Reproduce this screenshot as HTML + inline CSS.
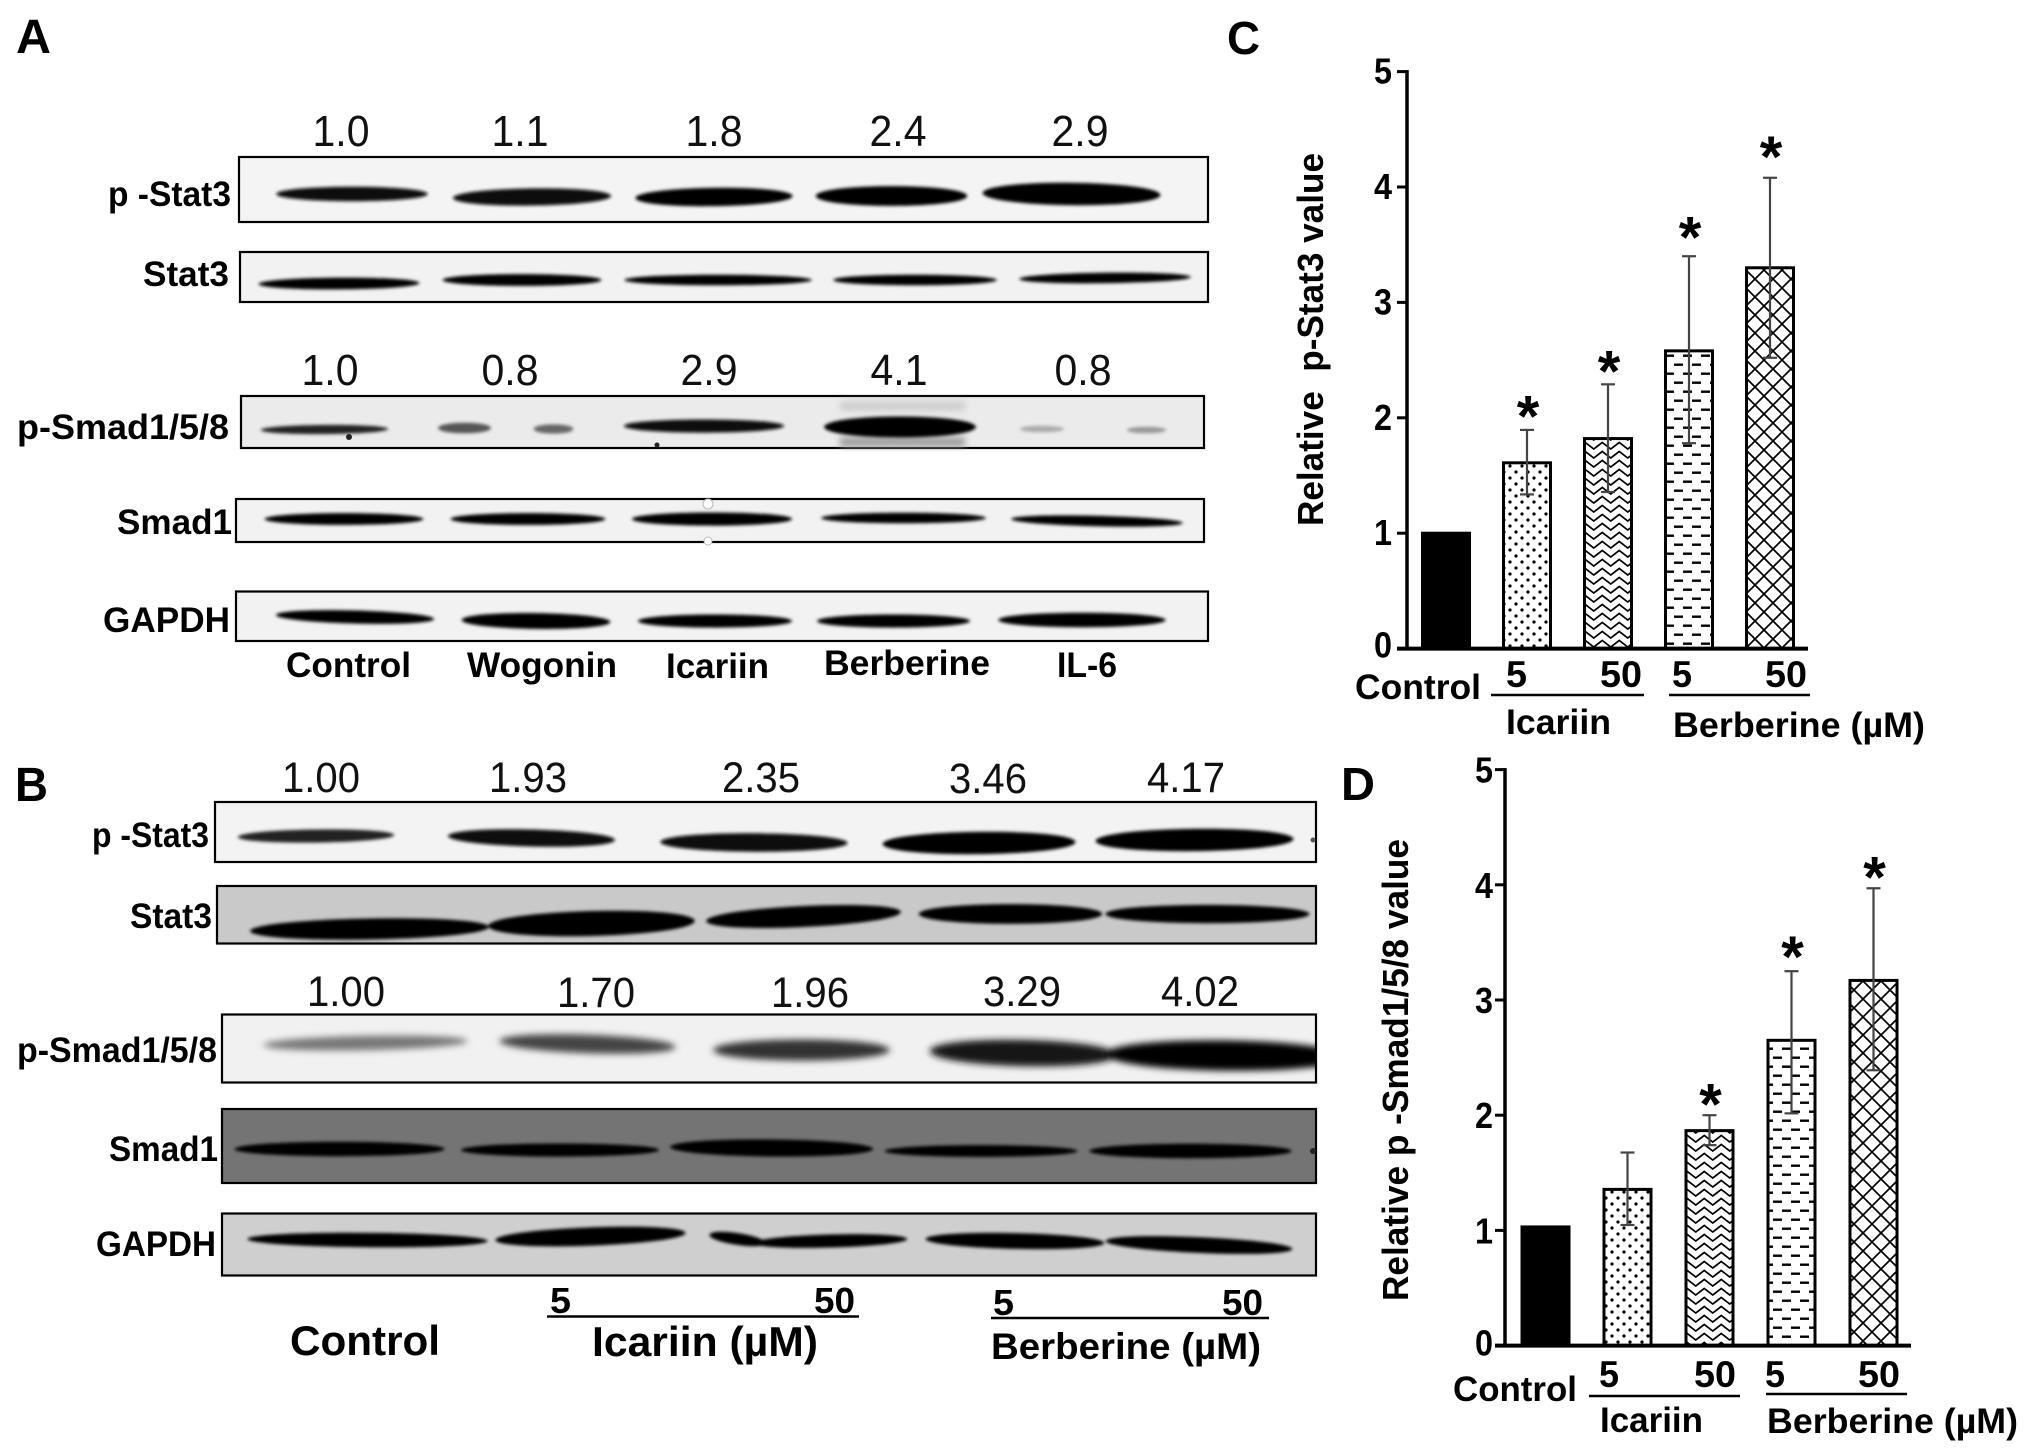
<!DOCTYPE html>
<html lang="en">
<head>
<meta charset="utf-8">
<title>p-Stat3 and p-Smad1/5/8 blots and quantification</title>
<style>
html,body{margin:0;padding:0;background:#fff;}
svg{display:block;}
text{font-family:"Liberation Sans",sans-serif;fill:#000;}
.b{font-weight:bold;}
.n{font-weight:normal;fill:#111;}
.blot{stroke:#000;stroke-width:2.2;}
</style>
</head>
<body>
<svg id="figure" xmlns="http://www.w3.org/2000/svg" width="2031" height="1454" viewBox="0 0 2031 1454">
<defs>
<filter id="soft" x="-5%" y="-5%" width="110%" height="110%"><feGaussianBlur stdDeviation="1.5"/></filter>
<filter id="softer" x="-5%" y="-50%" width="110%" height="200%"><feGaussianBlur stdDeviation="3.5"/></filter>
<clipPath id="clip-b-smad"><rect x="222" y="1014.5" width="1094" height="68"/></clipPath>
<pattern id="pat-dots" patternUnits="userSpaceOnUse" width="12" height="12" x="1" y="1">
<rect width="12" height="12" fill="#fff"/><circle cx="3" cy="3" r="1.6" fill="#000"/><circle cx="9" cy="9" r="1.6" fill="#000"/>
</pattern>
<pattern id="pat-zig" patternUnits="userSpaceOnUse" width="17" height="9">
<rect width="17" height="9" fill="#fff"/><path d="M-4.25 8 L4.25 1.5 L12.75 8 L21.25 1.5" fill="none" stroke="#000" stroke-width="1.7"/>
</pattern>
<pattern id="pat-dash" patternUnits="userSpaceOnUse" width="18" height="18">
<rect width="18" height="18" fill="#fff"/><rect x="0" y="3.5" width="9" height="2.4" fill="#000"/><rect x="9" y="12.5" width="9" height="2.4" fill="#000"/>
</pattern>
<pattern id="pat-cross" patternUnits="userSpaceOnUse" width="18" height="18">
<rect width="18" height="18" fill="#fff"/><path d="M0 0L18 18M18 0L0 18" stroke="#000" stroke-width="1.7"/>
</pattern>
</defs>

<!-- PANEL A -->
<g id="panel-a">
<text class="b" x="16" y="53" font-size="48" textLength="35" lengthAdjust="spacingAndGlyphs">A</text>

<g text-anchor="middle" font-size="44">
<text class="n" x="341" y="146" textLength="57" lengthAdjust="spacingAndGlyphs">1.0</text><text class="n" x="520" y="146" textLength="57" lengthAdjust="spacingAndGlyphs">1.1</text><text class="n" x="714" y="146" textLength="57" lengthAdjust="spacingAndGlyphs">1.8</text><text class="n" x="898" y="146" textLength="57" lengthAdjust="spacingAndGlyphs">2.4</text><text class="n" x="1080" y="146" textLength="57" lengthAdjust="spacingAndGlyphs">2.9</text>
</g>
<g text-anchor="middle" font-size="44">
<text class="n" x="330" y="385" textLength="57" lengthAdjust="spacingAndGlyphs">1.0</text><text class="n" x="510" y="385" textLength="57" lengthAdjust="spacingAndGlyphs">0.8</text><text class="n" x="709" y="385" textLength="57" lengthAdjust="spacingAndGlyphs">2.9</text><text class="n" x="899" y="385" textLength="57" lengthAdjust="spacingAndGlyphs">4.1</text><text class="n" x="1083" y="385" textLength="57" lengthAdjust="spacingAndGlyphs">0.8</text>
</g>

<rect class="blot" x="239" y="157" width="969" height="65" fill="#f4f4f4"/>
<rect class="blot" x="240" y="252" width="968" height="50" fill="#f2f2f2"/>
<rect class="blot" x="241" y="396" width="963" height="52" fill="#ebebeb"/>
<rect class="blot" x="236" y="499" width="968" height="43" fill="#f2f2f2"/>
<rect class="blot" x="236" y="591.5" width="972" height="49.5" fill="#f2f2f2"/>

<g filter="url(#softer)">
<line x1="840" y1="442" x2="965" y2="442" stroke="#999" stroke-width="9"/>
<line x1="840" y1="406" x2="965" y2="406" stroke="#ccc" stroke-width="9"/>
</g>
<g class="bands" filter="url(#soft)">
<line x1="283" y1="194" x2="421" y2="194" stroke="#111" stroke-width="11"/>
<line x1="461" y1="198" x2="603" y2="196" stroke="#0a0a0a" stroke-width="13"/>
<line x1="644" y1="198" x2="784" y2="196" stroke="#050505" stroke-width="14"/>
<line x1="825" y1="196" x2="958" y2="196" stroke="#000" stroke-width="15"/>
<line x1="993" y1="193" x2="1150" y2="195" stroke="#000" stroke-width="17"/>
<line x1="264" y1="284" x2="414" y2="283" stroke="#000" stroke-width="9"/>
<line x1="448" y1="280" x2="596" y2="280" stroke="#000" stroke-width="9"/>
<line x1="629" y1="280" x2="807" y2="280" stroke="#000" stroke-width="8"/>
<line x1="838" y1="280" x2="992" y2="280" stroke="#000" stroke-width="8"/>
<line x1="1024" y1="279" x2="1186" y2="277" stroke="#000" stroke-width="8"/>
<line x1="265" y1="430" x2="384" y2="429" stroke="#222" stroke-width="7"/>
<line x1="443" y1="428" x2="486" y2="428" stroke="#555" stroke-width="8"/>
<line x1="538" y1="429" x2="569" y2="429" stroke="#666" stroke-width="7"/>
<line x1="630" y1="426" x2="778" y2="426" stroke="#111" stroke-width="10"/>
<line x1="834" y1="427" x2="966" y2="427" stroke="#000" stroke-width="16"/>
<line x1="1023" y1="429" x2="1061" y2="429" stroke="#aaa" stroke-width="5"/>
<line x1="1130" y1="430" x2="1163" y2="430" stroke="#999" stroke-width="5"/>
<line x1="270" y1="519" x2="418" y2="519" stroke="#000" stroke-width="9"/>
<line x1="456" y1="519" x2="600" y2="519" stroke="#000" stroke-width="9"/>
<line x1="638" y1="519" x2="786" y2="519" stroke="#000" stroke-width="10"/>
<line x1="826" y1="518" x2="981" y2="518" stroke="#000" stroke-width="8"/>
<line x1="1016" y1="519" x2="1178" y2="523" stroke="#000" stroke-width="8"/>
<line x1="282" y1="615" x2="428" y2="619" stroke="#000" stroke-width="10"/>
<line x1="469" y1="620" x2="603" y2="622" stroke="#000" stroke-width="12"/>
<line x1="644" y1="621" x2="786" y2="621" stroke="#000" stroke-width="10"/>
<line x1="823" y1="621" x2="964" y2="621" stroke="#000" stroke-width="10"/>
<line x1="1005" y1="620" x2="1159" y2="620" stroke="#000" stroke-width="11"/>
</g>
<circle cx="708" cy="504" r="5" fill="#fff" stroke="#bbb" stroke-width="1"/>
<circle cx="708" cy="541" r="4" fill="#fff" stroke="#bbb" stroke-width="1"/>
<circle cx="349" cy="437" r="3" fill="#222"/>
<circle cx="657" cy="445" r="2.5" fill="#222"/>

<text class="b" x="108" y="206" font-size="35" textLength="123" lengthAdjust="spacingAndGlyphs">p -Stat3</text>
<text class="b" x="143" y="286" font-size="35" textLength="86" lengthAdjust="spacingAndGlyphs">Stat3</text>
<text class="b" x="17" y="439" font-size="35" textLength="212" lengthAdjust="spacingAndGlyphs">p-Smad1/5/8</text>
<text class="b" x="117" y="534" font-size="35" textLength="115" lengthAdjust="spacingAndGlyphs">Smad1</text>
<text class="b" x="103" y="632" font-size="35" textLength="127" lengthAdjust="spacingAndGlyphs">GAPDH</text>

<text class="b" x="286" y="677" font-size="35" textLength="125" lengthAdjust="spacingAndGlyphs">Control</text>
<text class="b" x="467" y="677" font-size="35" textLength="150" lengthAdjust="spacingAndGlyphs">Wogonin</text>
<text class="b" x="666" y="678" font-size="35" textLength="103" lengthAdjust="spacingAndGlyphs">Icariin</text>
<text class="b" x="824" y="675" font-size="35" textLength="166" lengthAdjust="spacingAndGlyphs">Berberine</text>
<text class="b" x="1057" y="677" font-size="35" textLength="60" lengthAdjust="spacingAndGlyphs">IL-6</text>
</g>

<!-- PANEL B -->
<g id="panel-b">
<text class="b" x="15" y="801" font-size="48" textLength="33" lengthAdjust="spacingAndGlyphs">B</text>

<g text-anchor="middle" font-size="43">
<text class="n" x="321" y="792" textLength="78" lengthAdjust="spacingAndGlyphs">1.00</text><text class="n" x="528" y="792" textLength="78" lengthAdjust="spacingAndGlyphs">1.93</text><text class="n" x="761" y="792" textLength="78" lengthAdjust="spacingAndGlyphs">2.35</text><text class="n" x="988" y="793" textLength="78" lengthAdjust="spacingAndGlyphs">3.46</text><text class="n" x="1186" y="792" textLength="78" lengthAdjust="spacingAndGlyphs">4.17</text>
</g>
<g text-anchor="middle" font-size="43">
<text class="n" x="346" y="1006" textLength="78" lengthAdjust="spacingAndGlyphs">1.00</text><text class="n" x="596" y="1007" textLength="78" lengthAdjust="spacingAndGlyphs">1.70</text><text class="n" x="810" y="1007" textLength="78" lengthAdjust="spacingAndGlyphs">1.96</text><text class="n" x="1022" y="1006" textLength="78" lengthAdjust="spacingAndGlyphs">3.29</text><text class="n" x="1200" y="1006" textLength="78" lengthAdjust="spacingAndGlyphs">4.02</text>
</g>

<rect class="blot" x="215" y="802" width="1101" height="60" fill="#f3f3f3"/>
<rect class="blot" x="217" y="886" width="1099" height="57.5" fill="#c9c9c9"/>
<rect class="blot" x="222" y="1014.5" width="1094" height="68" fill="#f1f1f1"/>
<rect class="blot" x="222" y="1109" width="1094" height="74" fill="#747474"/>
<rect class="blot" x="222" y="1213.5" width="1094" height="62" fill="#cfcfcf"/>

<g class="bands" filter="url(#soft)">
<line x1="244" y1="837" x2="388" y2="835" stroke="#222" stroke-width="10"/>
<line x1="456" y1="836" x2="607" y2="840" stroke="#111" stroke-width="13"/>
<line x1="669" y1="842" x2="839" y2="843" stroke="#0a0a0a" stroke-width="14"/>
<line x1="893" y1="844" x2="1065" y2="842" stroke="#000" stroke-width="17"/>
<line x1="1106" y1="841" x2="1283" y2="839" stroke="#000" stroke-width="17"/>
<line x1="260" y1="931" x2="479" y2="927" stroke="#000" stroke-width="16"/>
<line x1="500" y1="926" x2="683" y2="921" stroke="#000" stroke-width="19"/>
<line x1="716" y1="921" x2="891" y2="912" stroke="#000" stroke-width="16"/>
<line x1="928" y1="914" x2="1093" y2="914" stroke="#000" stroke-width="15"/>
<line x1="1114" y1="914" x2="1301" y2="914" stroke="#000" stroke-width="14"/>
</g>
<g clip-path="url(#clip-b-smad)">
<g class="bands" filter="url(#softer)">
<line x1="270" y1="1045" x2="461" y2="1041" stroke="#777" stroke-width="11"/>
<line x1="508" y1="1041" x2="667" y2="1047" stroke="#444" stroke-width="14"/>
<line x1="723" y1="1050" x2="880" y2="1050" stroke="#333" stroke-width="16"/>
<line x1="942" y1="1051" x2="1105" y2="1055" stroke="#151515" stroke-width="20"/>
<line x1="1120" y1="1054" x2="1330" y2="1057" stroke="#000" stroke-width="23"/>
</g>
</g>
<g class="bands" filter="url(#soft)">
<line x1="241" y1="1149" x2="438" y2="1149" stroke="#000" stroke-width="11"/>
<line x1="467" y1="1150" x2="653" y2="1150" stroke="#000" stroke-width="10"/>
<line x1="678" y1="1147" x2="865" y2="1149" stroke="#000" stroke-width="13"/>
<line x1="890" y1="1151" x2="1072" y2="1151" stroke="#000" stroke-width="9"/>
<line x1="1096" y1="1151" x2="1285" y2="1151" stroke="#000" stroke-width="11"/>
<line x1="254" y1="1239" x2="481" y2="1241" stroke="#000" stroke-width="11"/>
<line x1="504" y1="1240" x2="677" y2="1233" stroke="#000" stroke-width="14"/>
<line x1="715" y1="1235" x2="760" y2="1243" stroke="#000" stroke-width="9"/>
<line x1="760" y1="1243" x2="901" y2="1239" stroke="#000" stroke-width="10"/>
<line x1="933" y1="1239" x2="1097" y2="1243" stroke="#000" stroke-width="12"/>
<line x1="1113" y1="1241" x2="1285" y2="1249" stroke="#000" stroke-width="12"/>
</g>
<circle cx="1313" cy="840" r="2.5" fill="#555"/>
<circle cx="1313" cy="1151" r="3" fill="#222"/>

<text class="b" x="92" y="847" font-size="35" textLength="117" lengthAdjust="spacingAndGlyphs">p -Stat3</text>
<text class="b" x="130" y="928" font-size="35" textLength="82" lengthAdjust="spacingAndGlyphs">Stat3</text>
<text class="b" x="17" y="1062" font-size="35" textLength="200" lengthAdjust="spacingAndGlyphs">p-Smad1/5/8</text>
<text class="b" x="109" y="1161" font-size="35" textLength="109" lengthAdjust="spacingAndGlyphs">Smad1</text>
<text class="b" x="96" y="1256" font-size="35" textLength="120" lengthAdjust="spacingAndGlyphs">GAPDH</text>

<text class="b" x="550" y="1313" font-size="36" textLength="21" lengthAdjust="spacingAndGlyphs">5</text>
<text class="b" x="814" y="1313" font-size="36" textLength="41" lengthAdjust="spacingAndGlyphs">50</text>
<text class="b" x="993" y="1315" font-size="36" textLength="21" lengthAdjust="spacingAndGlyphs">5</text>
<text class="b" x="1222" y="1315" font-size="36" textLength="41" lengthAdjust="spacingAndGlyphs">50</text>
<line x1="547" y1="1316.5" x2="859" y2="1316.5" stroke="#000" stroke-width="2.5"/>
<line x1="991" y1="1318" x2="1269" y2="1318" stroke="#000" stroke-width="2.5"/>
<text class="b" x="290" y="1355" font-size="42" textLength="150" lengthAdjust="spacingAndGlyphs">Control</text>
<text class="b" x="592" y="1356" font-size="42" textLength="226" lengthAdjust="spacingAndGlyphs">Icariin (µM)</text>
<text class="b" x="991" y="1359" font-size="37" textLength="270" lengthAdjust="spacingAndGlyphs">Berberine (µM)</text>
</g>

<!-- PANEL C static labels -->
<g id="panel-c">
<text class="b" x="1227" y="54" font-size="46" textLength="33" lengthAdjust="spacingAndGlyphs">C</text>
<text class="b" transform="translate(1323 526) rotate(-90)" font-size="36" textLength="373" lengthAdjust="spacingAndGlyphs">Relative&#160;&#160;p-Stat3 value</text>
<text class="b" x="1355" y="699" font-size="35" textLength="126" lengthAdjust="spacingAndGlyphs">Control</text>
<text class="b" x="1506" y="687" font-size="37" textLength="21" lengthAdjust="spacingAndGlyphs">5</text>
<text class="b" x="1600" y="687" font-size="37" textLength="42" lengthAdjust="spacingAndGlyphs">50</text>
<text class="b" x="1672" y="687" font-size="37" textLength="20" lengthAdjust="spacingAndGlyphs">5</text>
<text class="b" x="1765" y="687" font-size="37" textLength="42" lengthAdjust="spacingAndGlyphs">50</text>
<line x1="1491" y1="695" x2="1644" y2="695" stroke="#000" stroke-width="2.5"/>
<line x1="1669" y1="695" x2="1810" y2="695" stroke="#000" stroke-width="2.5"/>
<text class="b" x="1506" y="734" font-size="35" textLength="105" lengthAdjust="spacingAndGlyphs">Icariin</text>
<text class="b" x="1673" y="737" font-size="35" textLength="252" lengthAdjust="spacingAndGlyphs">Berberine (µM)</text>
</g>

<!-- PANEL D static labels -->
<g id="panel-d">
<text class="b" x="1341" y="800" font-size="46" textLength="34" lengthAdjust="spacingAndGlyphs">D</text>
<text class="b" transform="translate(1408 1301) rotate(-90)" font-size="36" textLength="462" lengthAdjust="spacingAndGlyphs">Relative p -Smad1/5/8 value</text>
<text class="b" x="1453" y="1401" font-size="35" textLength="124" lengthAdjust="spacingAndGlyphs">Control</text>
<text class="b" x="1599" y="1387" font-size="37" textLength="20" lengthAdjust="spacingAndGlyphs">5</text>
<text class="b" x="1694" y="1387" font-size="37" textLength="42" lengthAdjust="spacingAndGlyphs">50</text>
<text class="b" x="1765" y="1387" font-size="37" textLength="20" lengthAdjust="spacingAndGlyphs">5</text>
<text class="b" x="1858" y="1387" font-size="37" textLength="42" lengthAdjust="spacingAndGlyphs">50</text>
<line x1="1589" y1="1396" x2="1740" y2="1396" stroke="#000" stroke-width="2.5"/>
<line x1="1766" y1="1394" x2="1907" y2="1394" stroke="#000" stroke-width="2.5"/>
<text class="b" x="1600" y="1432" font-size="35" textLength="103" lengthAdjust="spacingAndGlyphs">Icariin</text>
<text class="b" x="1767" y="1433" font-size="35" textLength="251" lengthAdjust="spacingAndGlyphs">Berberine (µM)</text>
</g>
</svg>

<script>
const categories = ['Control', 'Icariin 5', 'Icariin 50', 'Berberine 5', 'Berberine 50'];
const tickLabels = [0, 1, 2, 3, 4, 5];
const barFills = ['#000', 'url(#pat-dots)', 'url(#pat-zig)', 'url(#pat-dash)', 'url(#pat-cross)'];

const pStat3Values = [1.0, 1.61, 1.82, 2.58, 3.30];
const pStat3ErrHigh = [1.0, 1.895, 2.29, 3.40, 4.08];
const pStat3ErrLow = [1.0, 1.336, 1.357, 1.78, 2.52];
const pStat3StarLevels = [null, 2.09, 2.48, 3.64, 4.34];

const pSmadValues = [1.03, 1.356, 1.866, 2.65, 3.17];
const pSmadErrHigh = [1.03, 1.676, 2.0, 3.25, 3.97];
const pSmadErrLow = [1.03, 1.047, 1.74, 2.016, 2.39];
const pSmadStarLevels = [null, null, 2.17, 3.45, 4.14];

const NS = 'http://www.w3.org/2000/svg';
const figure = document.getElementById('figure');

function node(tag, attrs) {
  const el = document.createElementNS(NS, tag);
  for (const k in attrs) el.setAttribute(k, attrs[k]);
  return el;
}

/* Turn each blot band line into a tapered lens shape, like a real gel band. */
document.querySelectorAll('.bands line').forEach(line => {
  const t = +line.getAttribute('stroke-width') * 1.25;
  const a = +line.getAttribute('x1') - t / 2;
  const b = +line.getAttribute('x2') + t / 2;
  const yL = +line.getAttribute('y1');
  const yR = +line.getAttribute('y2');
  const w = b - a;
  const c1 = a + 0.02 * w;
  const c2 = b - 0.02 * w;
  const o = 0.7 * t;
  const d = 'M' + a + ' ' + yL +
    'C' + c1 + ' ' + (yL - o) + ' ' + c2 + ' ' + (yR - o) + ' ' + b + ' ' + yR +
    'C' + c2 + ' ' + (yR + o) + ' ' + c1 + ' ' + (yL + o) + ' ' + a + ' ' + yL + 'Z';
  const band = node('path', {d: d, fill: line.getAttribute('stroke')});
  
  
  line.replaceWith(band);
});

function drawChart(opt, values, errHigh, errLow, starLevels) {
  const group = node('g', {});
  
  
  figure.appendChild(group);

  const y = v => opt.y0 - v * opt.unit;
  const x = i => opt.x0 + i * opt.step;

  tickLabels.forEach(t => {
    const tick = node('line', {x1: opt.axisX - 10, x2: opt.axisX, y1: y(t), y2: y(t), stroke: '#000', 'stroke-width': 3});
    
    
    group.appendChild(tick);
    const label = node('text', {x: opt.labelX, y: y(t) + opt.tickDy - (t === 0 ? 3 : 0), 'font-size': 36, 'font-weight': 'bold', 'text-anchor': 'end', textLength: 18, lengthAdjust: 'spacingAndGlyphs'});
    label.textContent = t;
    
    
    group.appendChild(label);
  });

  values.forEach((v, i) => {
    const bar = node('rect', {x: x(i) - opt.barW / 2, y: y(v), width: opt.barW, height: opt.y0 - y(v), fill: barFills[i], stroke: '#000', 'stroke-width': 3});
    
    
    group.appendChild(bar);
  });

  values.forEach((v, i) => {
    if (errHigh[i] === errLow[i]) return;
    const stem = node('line', {x1: x(i), x2: x(i), y1: y(errHigh[i]), y2: y(errLow[i]), stroke: '#444', 'stroke-width': 2.2});
    
    
    group.appendChild(stem);
    const capHigh = node('line', {x1: x(i) - 7, x2: x(i) + 7, y1: y(errHigh[i]), y2: y(errHigh[i]), stroke: '#444', 'stroke-width': 2.2});
    
    
    group.appendChild(capHigh);
    const capLow = node('line', {x1: x(i) - 7, x2: x(i) + 7, y1: y(errLow[i]), y2: y(errLow[i]), stroke: '#444', 'stroke-width': 2.2});
    
    
    group.appendChild(capLow);
    if (starLevels[i] !== null) {
      const star = node('text', {x: x(i) + 1, y: y(starLevels[i]) + 29, 'font-size': 58, 'font-weight': 'bold', 'text-anchor': 'middle'});
      star.textContent = '*';
      
      
      group.appendChild(star);
    }
  });

  const yAxis = node('line', {x1: opt.axisX, x2: opt.axisX, y1: y(5) - 1.5, y2: opt.y0, stroke: '#000', 'stroke-width': 3.5});
  
  
  group.appendChild(yAxis);

  const xAxis = node('line', {x1: opt.axisX - 10, x2: opt.axisEnd, y1: opt.y0, y2: opt.y0, stroke: '#000', 'stroke-width': 4});
  
  
  group.appendChild(xAxis);
}

drawChart({name: 'p-stat3', y0: 648.6, unit: 115.4, x0: 1446, step: 81, barW: 47, axisX: 1407, axisEnd: 1808, labelX: 1392, tickDy: 12},
  pStat3Values, pStat3ErrHigh, pStat3ErrLow, pStat3StarLevels);
drawChart({name: 'p-smad', y0: 1345.6, unit: 115.2, x0: 1545.5, step: 82, barW: 47, axisX: 1505, axisEnd: 1911, labelX: 1493, tickDy: 13},
  pSmadValues, pSmadErrHigh, pSmadErrLow, pSmadStarLevels);
</script>
</body>
</html>
